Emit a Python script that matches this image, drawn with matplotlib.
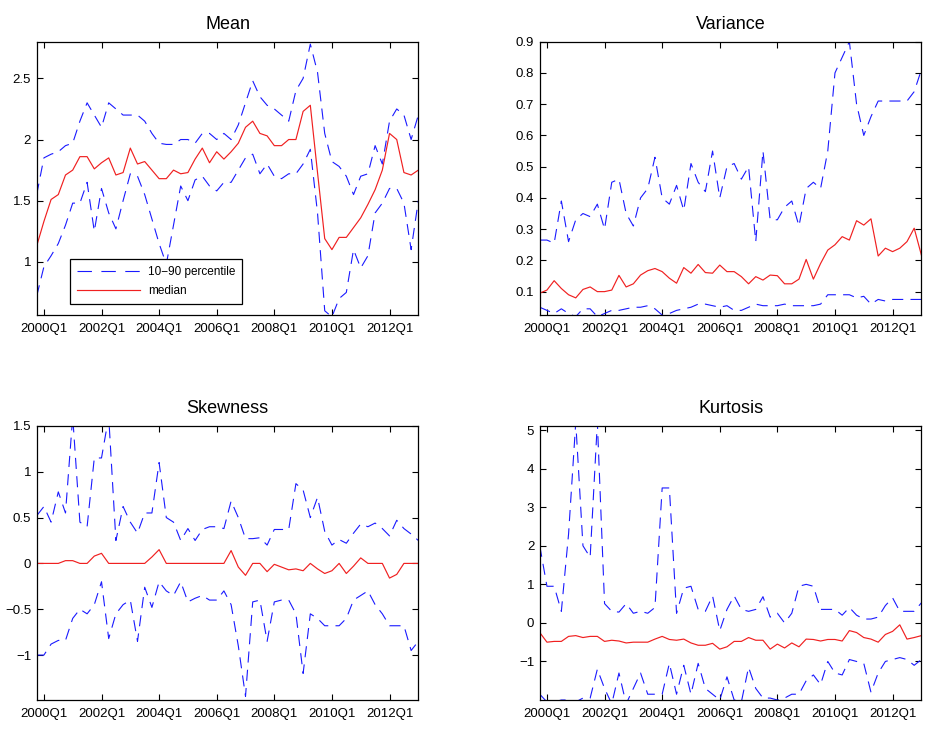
import matplotlib
matplotlib.use("Agg")
import matplotlib.pyplot as plt
import numpy as np
from matplotlib.ticker import FuncFormatter

plt.rcParams['font.family'] = ['Liberation Sans', 'DejaVu Sans']
plt.rcParams['axes.unicode_minus'] = True

# quarterly series, 1999Q4 .. 2013Q1
start_year, start_q = 1999, 4
tick_labels = ['2000Q1', '2002Q1', '2004Q1', '2006Q1', '2008Q1', '2010Q1', '2012Q1']

mean_med = [1.13, 1.33, 1.51, 1.55, 1.71, 1.75, 1.86, 1.86, 1.76, 1.81,
            1.85, 1.71, 1.73, 1.93, 1.80, 1.82, 1.75, 1.68, 1.68, 1.75,
            1.72, 1.73, 1.84, 1.93, 1.81, 1.90, 1.84, 1.90, 1.97, 2.10,
            2.15, 2.05, 2.03, 1.95, 1.95, 2.00, 2.00, 2.23, 2.28, 1.73,
            1.19, 1.10, 1.20, 1.20, 1.28, 1.36, 1.47, 1.59, 1.75, 2.05,
            2.00, 1.73, 1.71, 1.75]
mean_hi = [1.55, 1.85, 1.88, 1.90, 1.95, 1.97, 2.15, 2.30, 2.20, 2.10,
           2.30, 2.25, 2.20, 2.20, 2.20, 2.15, 2.05, 1.97, 1.96, 1.96,
           2.00, 2.00, 1.97, 2.05, 2.05, 2.00, 2.05, 2.00, 2.12, 2.30,
           2.48, 2.35, 2.28, 2.25, 2.20, 2.15, 2.40, 2.50, 2.78, 2.55,
           2.05, 1.82, 1.78, 1.70, 1.55, 1.70, 1.72, 1.95, 1.80, 2.15,
           2.25, 2.20, 2.00, 2.20]
mean_lo = [0.72, 0.96, 1.05, 1.15, 1.30, 1.48, 1.48, 1.65, 1.25, 1.60,
           1.40, 1.27, 1.50, 1.72, 1.70, 1.55, 1.35, 1.15, 0.98, 1.30,
           1.62, 1.50, 1.67, 1.70, 1.62, 1.58, 1.65, 1.65, 1.75, 1.85,
           1.88, 1.72, 1.80, 1.70, 1.68, 1.72, 1.72, 1.80, 1.92, 1.40,
           0.60, 0.55, 0.70, 0.75, 1.10, 0.95, 1.05, 1.40, 1.48, 1.60,
           1.60, 1.48, 1.10, 1.50]

var_med = [0.095, 0.105, 0.135, 0.110, 0.090, 0.080, 0.107, 0.115, 0.100, 0.100,
           0.105, 0.152, 0.115, 0.125, 0.153, 0.167, 0.174, 0.164, 0.143, 0.127,
           0.177, 0.159, 0.187, 0.161, 0.159, 0.185, 0.164, 0.164, 0.148, 0.125,
           0.148, 0.137, 0.153, 0.151, 0.125, 0.125, 0.140, 0.203, 0.140, 0.190,
           0.233, 0.250, 0.276, 0.265, 0.327, 0.313, 0.333, 0.214, 0.239, 0.228,
           0.239, 0.260, 0.303, 0.217]
var_hi = [0.265, 0.265, 0.255, 0.39, 0.26, 0.33, 0.35, 0.34, 0.38, 0.30,
          0.45, 0.46, 0.35, 0.31, 0.40, 0.43, 0.53, 0.40, 0.38, 0.44,
          0.36, 0.51, 0.45, 0.42, 0.55, 0.40, 0.50, 0.51, 0.46, 0.50,
          0.26, 0.55, 0.33, 0.33, 0.37, 0.39, 0.31, 0.43, 0.45, 0.43,
          0.55, 0.80, 0.85, 0.90, 0.70, 0.60, 0.66, 0.71, 0.71, 0.71,
          0.71, 0.71, 0.74, 0.81]
var_lo = [0.050, 0.040, 0.030, 0.045, 0.030, 0.020, 0.045, 0.045, 0.020, 0.030,
          0.040, 0.040, 0.045, 0.050, 0.050, 0.055, 0.045, 0.025, 0.030, 0.040,
          0.045, 0.050, 0.060, 0.060, 0.055, 0.050, 0.055, 0.040, 0.040, 0.050,
          0.060, 0.055, 0.055, 0.055, 0.060, 0.055, 0.055, 0.055, 0.055, 0.060,
          0.090, 0.090, 0.090, 0.090, 0.080, 0.085, 0.060, 0.075, 0.070, 0.075,
          0.075, 0.075, 0.075, 0.075]

skew_med = [0, 0, 0, 0, 0.03, 0.03, 0, 0, 0.08, 0.11,
            0, 0, 0, 0, 0, 0, 0.07, 0.15, 0, 0,
            0, 0, 0, 0, 0, 0, 0, 0.14, -0.04, -0.13,
            0, 0, -0.09, -0.01, -0.04, -0.07, -0.06, -0.08, 0, -0.06,
            -0.11, -0.08, 0, -0.11, -0.03, 0.06, 0, 0, 0, -0.16,
            -0.12, 0, 0, 0]
skew_hi = [0.52, 0.62, 0.45, 0.78, 0.55, 1.60, 0.45, 0.40, 1.15, 1.15,
           1.60, 0.25, 0.62, 0.45, 0.33, 0.55, 0.55, 1.10, 0.50, 0.45,
           0.25, 0.38, 0.25, 0.37, 0.40, 0.40, 0.38, 0.68, 0.50, 0.27,
           0.27, 0.28, 0.20, 0.37, 0.37, 0.37, 0.87, 0.80, 0.50, 0.72,
           0.35, 0.20, 0.26, 0.22, 0.33, 0.43, 0.40, 0.44, 0.38, 0.30,
           0.47, 0.38, 0.32, 0.25]
skew_lo = [-1.00, -1.00, -0.88, -0.84, -0.84, -0.60, -0.50, -0.55, -0.45, -0.20,
           -0.82, -0.55, -0.45, -0.40, -0.85, -0.26, -0.48, -0.20, -0.30, -0.35,
           -0.20, -0.42, -0.38, -0.35, -0.40, -0.40, -0.30, -0.45, -0.90, -1.45,
           -0.42, -0.40, -0.85, -0.42, -0.40, -0.40, -0.55, -1.20, -0.55, -0.60,
           -0.68, -0.68, -0.68, -0.60, -0.40, -0.35, -0.30, -0.45, -0.55, -0.68,
           -0.68, -0.68, -0.95, -0.85]

kurt_med = [-0.25, -0.50, -0.48, -0.48, -0.35, -0.33, -0.38, -0.35, -0.35, -0.48,
            -0.45, -0.47, -0.52, -0.50, -0.50, -0.50, -0.42, -0.35, -0.43, -0.45,
            -0.42, -0.52, -0.58, -0.58, -0.53, -0.68, -0.62, -0.48, -0.48, -0.38,
            -0.45, -0.45, -0.68, -0.55, -0.65, -0.52, -0.62, -0.42, -0.43, -0.47,
            -0.43, -0.43, -0.47, -0.20, -0.25, -0.38, -0.42, -0.50, -0.30, -0.22,
            -0.05, -0.42, -0.38, -0.33]
kurt_hi = [2.00, 0.95, 0.95, 0.30, 2.30, 5.20, 2.00, 1.70, 5.20, 0.50,
           0.30, 0.28, 0.50, 0.25, 0.30, 0.25, 0.40, 3.50, 3.50, 0.25,
           0.90, 0.95, 0.35, 0.30, 0.70, -0.20, 0.35, 0.70, 0.35, 0.30,
           0.35, 0.68, 0.15, 0.25, 0.00, 0.25, 0.95, 1.00, 0.95, 0.35,
           0.35, 0.35, 0.20, 0.40, 0.20, 0.10, 0.10, 0.15, 0.45, 0.65,
           0.30, 0.30, 0.30, 0.52]
kurt_lo = [-1.85, -2.05, -2.05, -2.00, -2.00, -2.05, -1.95, -1.95, -1.20, -1.70,
           -2.10, -1.30, -2.10, -1.70, -1.30, -1.85, -1.85, -1.85, -1.05, -1.85,
           -1.10, -1.85, -1.05, -1.70, -1.85, -2.00, -1.40, -2.00, -2.05, -1.15,
           -1.70, -1.95, -1.95, -2.00, -1.95, -1.85, -1.85, -1.50, -1.35, -1.60,
           -1.00, -1.30, -1.35, -0.95, -1.00, -1.05, -1.80, -1.30, -1.00, -0.95,
           -0.90, -0.95, -1.10, -0.95]

panels = [
    ('Mean', mean_lo, mean_med, mean_hi, (0.565, 2.80), [1, 1.5, 2, 2.5]),
    ('Variance', var_lo, var_med, var_hi, (0.025, 0.90), [0.1, 0.2, 0.3, 0.4, 0.5, 0.6, 0.7, 0.8, 0.9]),
    ('Skewness', skew_lo, skew_med, skew_hi, (-1.49, 1.50), [-1, -0.5, 0, 0.5, 1, 1.5]),
    ('Kurtosis', kurt_lo, kurt_med, kurt_hi, (-2.0, 5.11), [-1, 0, 1, 2, 3, 4, 5]),
]

n = len(mean_med)
x = np.arange(n)
# position of each tick label in quarters from the first observation
tick_pos = [(int(s[:4]) - start_year) * 4 + int(s[-1]) - start_q for s in tick_labels]

fig = plt.figure(figsize=(9.29, 7.31), dpi=100)
rects = [[0.0395, 0.569, 0.4108, 0.374], [0.581, 0.569, 0.4108, 0.374],
         [0.0395, 0.0424, 0.4108, 0.375], [0.581, 0.0424, 0.4108, 0.375]]

fmt = FuncFormatter(lambda v, p: ('%g' % v).replace('-', '\u2212'))
blue, red = '#1a1aff', '#f02020'

for rect, (name, lo, med, hi, ylim, yt) in zip(rects, panels):
    ax = fig.add_axes(rect)
    l1, = ax.plot(x, hi, color=blue, lw=0.8, dashes=(10, 6.5))
    ax.plot(x, lo, color=blue, lw=0.8, dashes=(10, 6.5))
    l2, = ax.plot(x, med, color=red, lw=0.85)
    ax.set_xlim(0, n - 1)
    ax.set_ylim(*ylim)
    ax.set_xticks(tick_pos)
    ax.set_xticklabels(tick_labels)
    ax.set_yticks(yt)
    ax.yaxis.set_major_formatter(fmt)
    ax.tick_params(direction='in', top=True, right=True, labelsize=9.5,
                   length=4, width=0.8, colors='black')
    ax.tick_params(axis='x', pad=6)
    ax.tick_params(axis='y', pad=4)
    for sp in ax.spines.values():
        sp.set_linewidth(0.9)
    ax.set_title(name, fontsize=13, pad=9)
    if name == 'Mean':
        leg = ax.legend([l1, l2], ['10\u221290 percentile', 'median'],
                        loc='lower left', bbox_to_anchor=(0.087, 0.04),
                        borderaxespad=0, fontsize=8.5, handlelength=5.3,
                        handletextpad=0.7, fancybox=False, framealpha=1,
                        edgecolor='black', borderpad=0.6, labelspacing=0.6)
        leg.get_frame().set_linewidth(0.9)
        leg.get_lines()[0].set_dashes((13, 8.5))

fig.savefig('out.png', dpi=100)
